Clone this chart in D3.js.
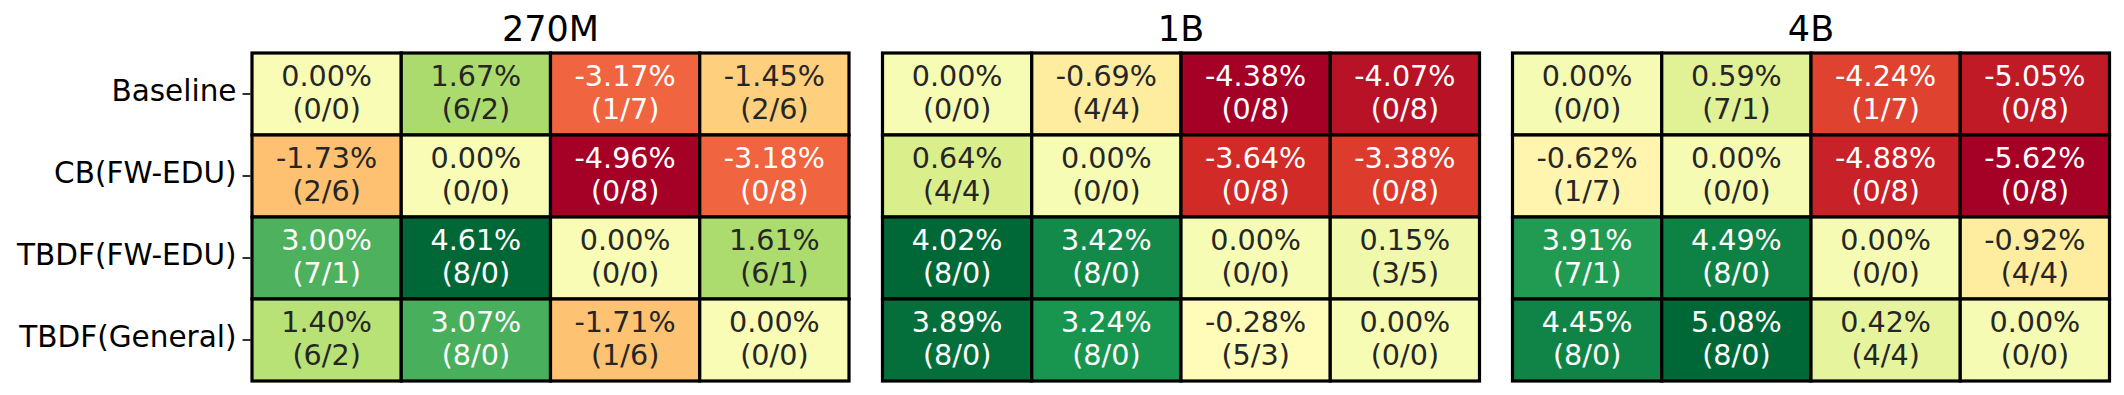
<!DOCTYPE html>
<html>
<head>
<meta charset="utf-8">
<script src="https://cdnjs.cloudflare.com/ajax/libs/d3/7.8.5/d3.min.js"></script>
<style>
  body { margin: 0; background: #fff; }
  svg { display: block; font-family: "DejaVu Sans", sans-serif; }
</style>
</head>
<body>
<svg id="chart" width="2124" height="395"></svg>
<script>
'use strict';
var rowLabels = ['Baseline', 'CB(FW-EDU)', 'TBDF(FW-EDU)', 'TBDF(General)'];
var models = ['270M', '1B', '4B'];

var values270M = [[0.00, 1.67, -3.17, -1.45], [-1.73, 0.00, -4.96, -3.18], [3.00, 4.61, 0.00, 1.61], [1.40, 3.07, -1.71, 0.00]];
var wins270M = [['0/0', '6/2', '1/7', '2/6'], ['2/6', '0/0', '0/8', '0/8'], ['7/1', '8/0', '0/0', '6/1'], ['6/2', '8/0', '1/6', '0/0']];
var values1B = [[0.00, -0.69, -4.38, -4.07], [0.64, 0.00, -3.64, -3.38], [4.02, 3.42, 0.00, 0.15], [3.89, 3.24, -0.28, 0.00]];
var wins1B = [['0/0', '4/4', '0/8', '0/8'], ['4/4', '0/0', '0/8', '0/8'], ['8/0', '8/0', '0/0', '3/5'], ['8/0', '8/0', '5/3', '0/0']];
var values4B = [[0.00, 0.59, -4.24, -5.05], [-0.62, 0.00, -4.88, -5.62], [3.91, 4.49, 0.00, -0.92], [4.45, 5.08, 0.42, 0.00]];
var wins4B = [['0/0', '7/1', '1/7', '0/8'], ['1/7', '0/0', '0/8', '0/8'], ['7/1', '8/0', '0/0', '4/4'], ['8/0', '8/0', '4/4', '0/0']];

var panels = [
  { title: models[0], values: values270M, wins: wins270M },
  { title: models[1], values: values1B, wins: wins1B },
  { title: models[2], values: values4B, wins: wins4B }
];

var svg = d3.select('#chart');
var panelW = 597, gridTop = 53, gridBottom = 381;
var panelX = [252, 882.5, 1512.5];
var cols = d3.range(4);

// matplotlib-style RdYlGn (linear over the 11 brewer colours)
var rdylgn = d3.piecewise(d3.interpolateRgb, d3.schemeRdYlGn[11]);

function luminance(c) {
  var rgb = d3.rgb(c);
  var lin = [rgb.r, rgb.g, rgb.b].map(function (v) {
    v = v / 255;
    return v <= 0.03928 ? v / 12.92 : Math.pow((v + 0.055) / 1.055, 2.4);
  });
  return 0.2126 * lin[0] + 0.7152 * lin[1] + 0.0722 * lin[2];
}

var y = d3.scaleBand().domain(rowLabels).range([gridTop, gridBottom]);

panels.forEach(function (p, pi) {
  var x = d3.scaleBand().domain(cols).range([panelX[pi], panelX[pi] + panelW]);
  var flat = d3.merge(p.values);
  var color = d3.scaleLinear().domain(d3.extent(flat)).range([0, 1]).clamp(true);
  var g = svg.append('g');

  var cells = [];
  p.values.forEach(function (row, ri) {
    row.forEach(function (v, ci) {
      cells.push({ row: rowLabels[ri], col: ci, v: v, w: p.wins[ri][ci] });
    });
  });

  g.selectAll('rect').data(cells).enter().append('rect')
    .attr('x', function (d) { return x(d.col); })
    .attr('y', function (d) { return y(d.row); })
    .attr('width', x.bandwidth())
    .attr('height', y.bandwidth())
    .style('fill', function (d) { return rdylgn(color(d.v)); })
    .style('stroke', '#000')
    .style('stroke-width', 3.2);

  var txt = g.selectAll('text.cell').data(cells).enter().append('text')
    .attr('class', 'cell')
    .attr('text-anchor', 'middle')
    .style('font-size', '28.6px')
    .style('fill', function (d) { return luminance(rdylgn(color(d.v))) > 0.408 ? '#262626' : '#fff'; });
  txt.append('tspan')
    .attr('x', function (d) { return x(d.col) + x.bandwidth() / 2; })
    .attr('y', function (d) { return y(d.row) + y.bandwidth() / 2 - 8; })
    .text(function (d) { return d.v.toFixed(2) + '%'; });
  txt.append('tspan')
    .attr('x', function (d) { return x(d.col) + x.bandwidth() / 2; })
    .attr('y', function (d) { return y(d.row) + y.bandwidth() / 2 + 25; })
    .text(function (d) { return '(' + d.w + ')'; });

  g.append('text')
    .attr('x', panelX[pi] + panelW / 2)
    .attr('y', 41)
    .attr('text-anchor', 'middle')
    .style('font-size', '35px')
    .text(p.title);

  if (pi === 0) {
    var ax = svg.append('g')
      .attr('transform', 'translate(' + (panelX[0] - 1.5) + ',0)')
      .call(d3.axisLeft(y).tickSize(8).tickPadding(6));
    ax.select('.domain').remove();
    ax.selectAll('line').style('stroke', '#000').style('stroke-width', 1.6);
    ax.selectAll('text')
      .style('font-size', '29.5px')
      .style('font-family', '"DejaVu Sans", sans-serif')
      .style('fill', '#000')
      .attr('dy', '0.22em');
  }
});
</script>
</body>
</html>
